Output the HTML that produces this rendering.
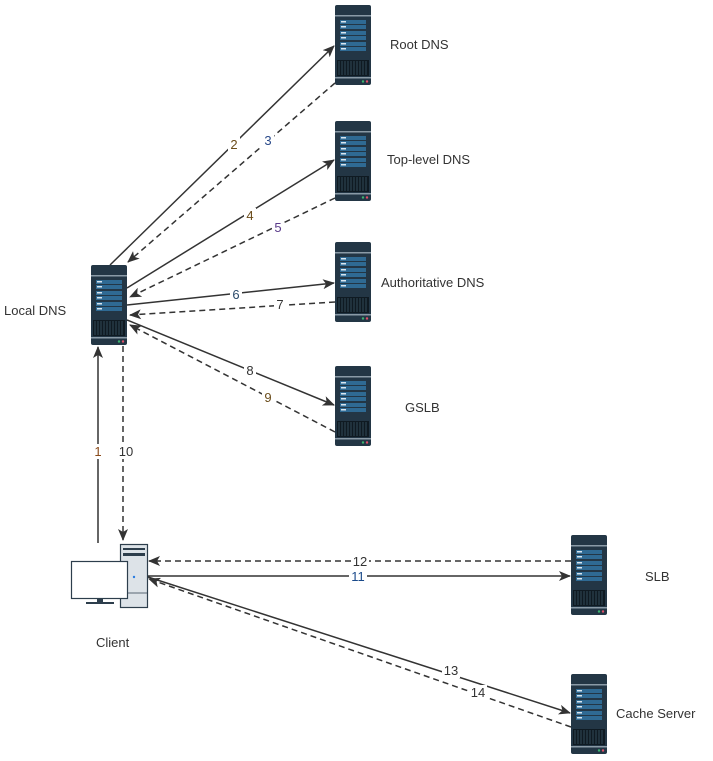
<!DOCTYPE html>
<html><head><meta charset="utf-8"><style>
body{margin:0;background:#fff;}
svg{display:block;font-family:"Liberation Sans",sans-serif;}
</style></head><body>
<svg width="713" height="761" viewBox="0 0 713 761">
<defs>
<symbol id="srv" viewBox="0 0 36 80">
<rect x="0" y="0" width="36" height="80" rx="2" fill="#233645"/>
<rect x="0" y="10" width="36" height="1.5" fill="#8a9aa6"/>
<rect x="5" y="15" width="26" height="4" fill="#2f6a93"/><rect x="6" y="16" width="5" height="1.5" fill="#d8e6f0"/>
<rect x="5" y="20" width="26" height="4" fill="#2f6a93"/><rect x="6" y="21" width="5" height="1.5" fill="#d8e6f0"/>
<rect x="5" y="26" width="26" height="4" fill="#2f6a93"/><rect x="6" y="27" width="5" height="1.5" fill="#d8e6f0"/>
<rect x="5" y="31" width="26" height="4" fill="#2f6a93"/><rect x="6" y="32" width="5" height="1.5" fill="#d8e6f0"/>
<rect x="5" y="37" width="26" height="4" fill="#2f6a93"/><rect x="6" y="38" width="5" height="1.5" fill="#d8e6f0"/>
<rect x="5" y="42" width="26" height="4" fill="#2f6a93"/><rect x="6" y="43" width="5" height="1.5" fill="#d8e6f0"/>
<rect x="2" y="55" width="32" height="16" fill="#0f1a22"/>
<g stroke="#3a5566" stroke-width="0.8">
<line x1="4" y1="56" x2="4" y2="70"/><line x1="7" y1="56" x2="7" y2="70"/><line x1="10" y1="56" x2="10" y2="70"/><line x1="13" y1="56" x2="13" y2="70"/><line x1="16" y1="56" x2="16" y2="70"/><line x1="19" y1="56" x2="19" y2="70"/><line x1="22" y1="56" x2="22" y2="70"/><line x1="25" y1="56" x2="25" y2="70"/><line x1="28" y1="56" x2="28" y2="70"/><line x1="31" y1="56" x2="31" y2="70"/>
</g>
<rect x="0" y="72" width="36" height="1.5" fill="#8a9aa6"/>
<circle cx="28" cy="76.5" r="1.2" fill="#3cb371"/><circle cx="32" cy="76.5" r="1.2" fill="#e0506a"/>
</symbol>
<marker id="a" markerWidth="12" markerHeight="10" refX="11" refY="5" orient="auto" markerUnits="userSpaceOnUse"><path d="M0,0 L12,5 L0,10 L3,5 z" fill="#333"/></marker>
</defs>

<use href="#srv" x="335" y="5" width="36" height="80"/>
<use href="#srv" x="335" y="121" width="36" height="80"/>
<use href="#srv" x="335" y="242" width="36" height="80"/>
<use href="#srv" x="335" y="366" width="36" height="80"/>
<use href="#srv" x="91" y="265" width="36" height="80"/>
<use href="#srv" x="571" y="535" width="36" height="80"/>
<use href="#srv" x="571" y="674" width="36" height="80"/>

<g stroke="#333" stroke-width="1.5" fill="none">
<line x1="110" y1="265" x2="334" y2="46" marker-end="url(#a)"/>
<line x1="335" y1="83" x2="128" y2="262" stroke-dasharray="6,4" marker-end="url(#a)"/>
<line x1="127" y1="288" x2="334" y2="160" marker-end="url(#a)"/>
<line x1="335" y1="198" x2="130" y2="297" stroke-dasharray="6,4" marker-end="url(#a)"/>
<line x1="127" y1="305" x2="334" y2="283" marker-end="url(#a)"/>
<line x1="335" y1="302" x2="130" y2="315" stroke-dasharray="6,4" marker-end="url(#a)"/>
<line x1="127" y1="320" x2="334" y2="405" marker-end="url(#a)"/>
<line x1="335" y1="432" x2="130" y2="325" stroke-dasharray="6,4" marker-end="url(#a)"/>
<line x1="98" y1="543" x2="98" y2="347" marker-end="url(#a)"/>
<line x1="123" y1="346" x2="123" y2="540" stroke-dasharray="6,4" marker-end="url(#a)"/>
<line x1="571" y1="561" x2="149" y2="561" stroke-dasharray="6,4" marker-end="url(#a)"/>
<line x1="148" y1="576" x2="570" y2="576" marker-end="url(#a)"/>
<line x1="148" y1="577" x2="570" y2="713" marker-end="url(#a)"/>
<line x1="571" y1="727" x2="149" y2="579" stroke-dasharray="6,4" marker-end="url(#a)"/>
</g>

<!-- client -->
<rect x="120.5" y="544.5" width="27" height="63" fill="#dde3e8" stroke="#2d3e4c" stroke-width="1.2"/>
<rect x="123" y="548" width="22" height="2" fill="#2d3e4c"/>
<rect x="123" y="553" width="22" height="3" fill="#2d3e4c"/>
<line x1="121" y1="593" x2="147" y2="593" stroke="#2d3e4c" stroke-width="0.8"/>
<circle cx="134" cy="577" r="1.2" fill="#2a7de1"/>
<rect x="71.5" y="561.5" width="56" height="37" fill="#fff" stroke="#2d3e4c" stroke-width="1.2"/>
<rect x="97" y="599" width="6" height="4" fill="#2d3e4c"/>
<rect x="86" y="602" width="28" height="2" fill="#2d3e4c"/>

<g font-size="13" fill="#333">
<text x="390" y="49">Root DNS</text>
<text x="387" y="164">Top-level DNS</text>
<text x="381" y="287">Authoritative DNS</text>
<text x="405" y="412">GSLB</text>
<text x="4" y="315">Local DNS</text>
<text x="645" y="581">SLB</text>
<text x="96" y="647">Client</text>
<text x="616" y="718">Cache Server</text>
</g>
<g font-size="13" text-anchor="middle">
<g fill="#fff"><rect x="228" y="137" width="12" height="15"/><rect x="262" y="133" width="12" height="15"/><rect x="244" y="208" width="12" height="15"/><rect x="272" y="220" width="12" height="15"/><rect x="230" y="287" width="12" height="15"/><rect x="274" y="297" width="12" height="15"/><rect x="244" y="363" width="12" height="15"/><rect x="262" y="390" width="12" height="15"/><rect x="92" y="444" width="12" height="15"/><rect x="117" y="444" width="18" height="15"/><rect x="351" y="554" width="18" height="15"/><rect x="349" y="569" width="18" height="15"/><rect x="442" y="663" width="18" height="15"/><rect x="469" y="685" width="18" height="15"/></g>
<text x="234" y="149" fill="#6a4c1a">2</text>
<text x="268" y="145" fill="#2a4a8a">3</text>
<text x="250" y="220" fill="#6a4c1a">4</text>
<text x="278" y="232" fill="#5a3a8a">5</text>
<text x="236" y="299" fill="#2a4a6a">6</text>
<text x="280" y="309" fill="#333">7</text>
<text x="250" y="375" fill="#333">8</text>
<text x="268" y="402" fill="#6a4c1a">9</text>
<text x="98" y="456" fill="#8a4a1a">1</text>
<text x="126" y="456" fill="#333">10</text>
<text x="360" y="566" fill="#333">12</text>
<text x="358" y="581" fill="#1a4a8a">11</text>
<text x="451" y="675" fill="#333">13</text>
<text x="478" y="697" fill="#333">14</text>
</g>
</svg>
</body></html>
